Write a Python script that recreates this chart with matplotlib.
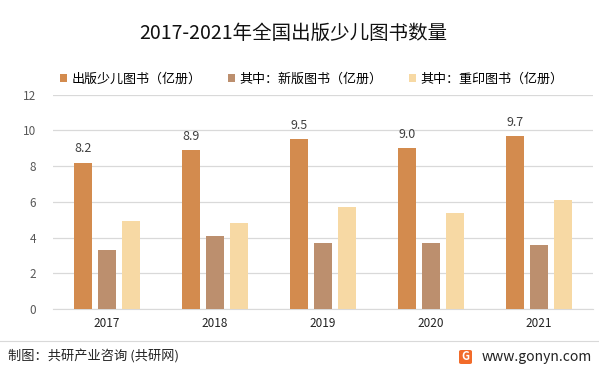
import numpy as np
import matplotlib
matplotlib.use("Agg")
import matplotlib.pyplot as plt
from matplotlib.patches import FancyBboxPatch

plt.rcParams["font.family"] = ["Noto Sans CJK SC", "DejaVu Sans"]

years = ["2017", "2018", "2019", "2020", "2021"]
total = [8.2, 8.9, 9.5, 9.0, 9.7]
new_books = [3.3, 4.1, 3.7, 3.7, 3.6]
reprint = [4.9, 4.8, 5.7, 5.4, 6.1]
series_names = ["出版少儿图书（亿册）", "其中：新版图书（亿册）", "其中：重印图书（亿册）"]
colors = ["#D38B4E", "#BC8F6E", "#F7D9A4"]

fig = plt.figure(figsize=(5.99, 3.72), dpi=100)
ax = fig.add_axes([53 / 599, 1 - 309 / 372, 540 / 599, (309 - 94.7) / 372])

x = np.arange(len(years))
w = 0.175
step = 0.222
for i, (vals, name, c) in enumerate(zip([total, new_books, reprint], series_names, colors)):
    bars = ax.bar(x + (i - 1) * step, vals, w, color=c, label=name, zorder=3)
    if i == 0:
        for b, v in zip(bars, vals):
            ax.text(b.get_x() + b.get_width() / 2, v + 0.4, f"{v:.1f}",
                    ha="center", va="bottom", fontsize=9, color="#404040")

ax.set_xlim(-0.5, len(years) - 0.5)
ax.set_ylim(0, 12)
ax.set_yticks(range(0, 13, 2))
ax.set_xticks(x)
ax.set_xticklabels(years, fontsize=8.5, color="#222222")
ax.tick_params(axis="y", labelsize=8.5, labelcolor="#595959", length=0, pad=12)
ax.tick_params(axis="x", length=0, pad=6)
ax.grid(True, axis="y", color="#D9D9D9", linewidth=0.9, zorder=0)
for s in ["top", "right", "left"]:
    ax.spines[s].set_visible(False)
ax.spines["bottom"].set_color("#D9D9D9")

fig.text(0.49, 1 - 33 / 372, "2017-2021年全国出版少儿图书数量", ha="center", va="center",
         fontsize=14, color="#111111")

ax.legend(loc="center left", bbox_to_anchor=(0.003, 1 + (94.7 - 79) / (309 - 94.7)),
          ncol=3, frameon=False, fontsize=9.4, handlelength=0.55, handleheight=0.55,
          handletextpad=0.35, columnspacing=2.0, borderaxespad=0)

# footer
fig.add_artist(plt.Line2D([0, 1], [1 - 341 / 372] * 2, color="#D9D9D9", linewidth=0.8))
fig.text(8 / 599, 1 - 357 / 372, "制图：共研产业咨询 (共研网)", ha="left", va="center",
         fontsize=9.5, color="#222222")
fig.text(592 / 599, 1 - 357 / 372, "www.gonyn.com", ha="right", va="center",
         fontsize=10, color="#222222")
logo = FancyBboxPatch((459 / 599, 1 - 364 / 372), 13 / 599, 14 / 372,
                      boxstyle="round,pad=0,rounding_size=0.004", transform=fig.transFigure,
                      facecolor="#F26B2A", edgecolor="none")
fig.add_artist(logo)
fig.text(465.5 / 599, 1 - 357 / 372, "G", ha="center", va="center", fontsize=8,
         color="white", fontweight="bold")

fig.savefig("out.png", dpi=100)
